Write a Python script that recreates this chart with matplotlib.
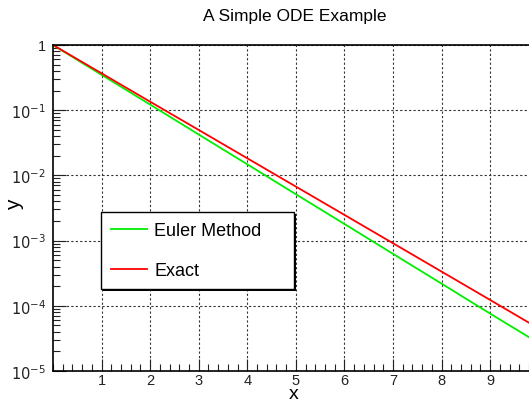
import matplotlib.pyplot as plt
from matplotlib.patches import Rectangle
from matplotlib.transforms import offset_copy
from matplotlib.ticker import FixedLocator, LogLocator, MultipleLocator, NullFormatter

plt.rcParams['font.family'] = ['Liberation Sans', 'DejaVu Sans']

# values (solution of y' = -y, y(0) = 1)
x_vals = [0, 1, 2, 3, 4, 5, 6, 7, 8, 9, 9.8]
euler_y = [1.0, 0.349, 0.122, 0.0424, 0.0148, 0.00515, 0.0018, 0.000627, 0.000219, 7.6e-5, 3.3e-5]
exact_y = [1.0, 0.368, 0.135, 0.0498, 0.0183, 0.00674, 0.00248, 0.000912, 0.000335, 0.000123, 5.5e-5]

y_ticks = [1e-5, 1e-4, 1e-3, 1e-2, 1e-1, 1]
y_tick_labels = [r'$10^{-5}$', r'$10^{-4}$', r'$10^{-3}$', r'$10^{-2}$', r'$10^{-1}$', '1']
x_ticks = [1, 2, 3, 4, 5, 6, 7, 8, 9]

fig = plt.figure(figsize=(5.29, 4.02), dpi=100)
ax = fig.add_axes([0.1002, 0.0746, 0.8998, 0.811])

ax.plot(x_vals, euler_y, color='#00ee00', lw=1.3, label='Euler Method')
ax.plot(x_vals, exact_y, color='#ff0000', lw=1.3, label='Exact')

ax.set_yscale('log')
ax.set_xlim(0, 9.8)
ax.set_ylim(1e-5, 1)

ax.xaxis.set_major_locator(FixedLocator(x_ticks))
ax.xaxis.set_minor_locator(MultipleLocator(0.2))
ax.set_xticklabels([str(v) for v in x_ticks])
ax.yaxis.set_major_locator(FixedLocator(y_ticks))
ax.set_yticklabels(y_tick_labels)
ax.yaxis.set_minor_locator(LogLocator(base=10, subs=range(2, 10)))
ax.yaxis.set_minor_formatter(NullFormatter())

ax.tick_params(which='both', direction='in', top=False, right=False, labelsize=10.5, colors='#222222')
ax.tick_params(which='major', length=9, width=0.8)
ax.tick_params(axis='x', which='major', pad=1.5)
ax.tick_params(axis='y', which='major', pad=5)
ax.tick_params(which='minor', length=5, width=0.8)
ax.grid(True, which='major', color='#333333', ls=(0, (2, 2)), lw=0.8)

for side in ['left', 'bottom', 'top']:
    ax.spines[side].set_linewidth(1.2)
ax.spines['right'].set_visible(False)

fig.text(294 / 529, 1 - 395 / 402, 'x', ha='center', va='center', fontsize=14)
fig.text(15 / 529, 1 - 205 / 402, 'y', ha='center', va='center', fontsize=15, rotation=90)
fig.text(295 / 529, 1 - 17 / 402, 'A Simple ODE Example', ha='center', va='center', fontsize=12.5)

leg_box = (0.101, 0.252, 0.405, 0.248)
leg = ax.legend(loc='lower left', bbox_to_anchor=leg_box, mode='expand',
                fontsize=13, frameon=True, fancybox=False, shadow=False,
                edgecolor='black', framealpha=1, handlelength=2.0, handletextpad=0.4,
                labelspacing=1.25, borderpad=0.55, borderaxespad=0)
leg.get_frame().set_linewidth(1.0)

# thin drop shadow behind the legend box, sized from the drawn frame
fig.canvas.draw()
bb = leg.get_frame().get_window_extent().transformed(ax.transAxes.inverted())
shadow_tr = offset_copy(ax.transAxes, fig=fig, x=2, y=-2, units='dots')
ax.add_patch(Rectangle((bb.x0, bb.y0), bb.width, bb.height, transform=shadow_tr,
                       facecolor='black', edgecolor='none', zorder=4.9, clip_on=False))

fig.savefig('out.png', dpi=100)
